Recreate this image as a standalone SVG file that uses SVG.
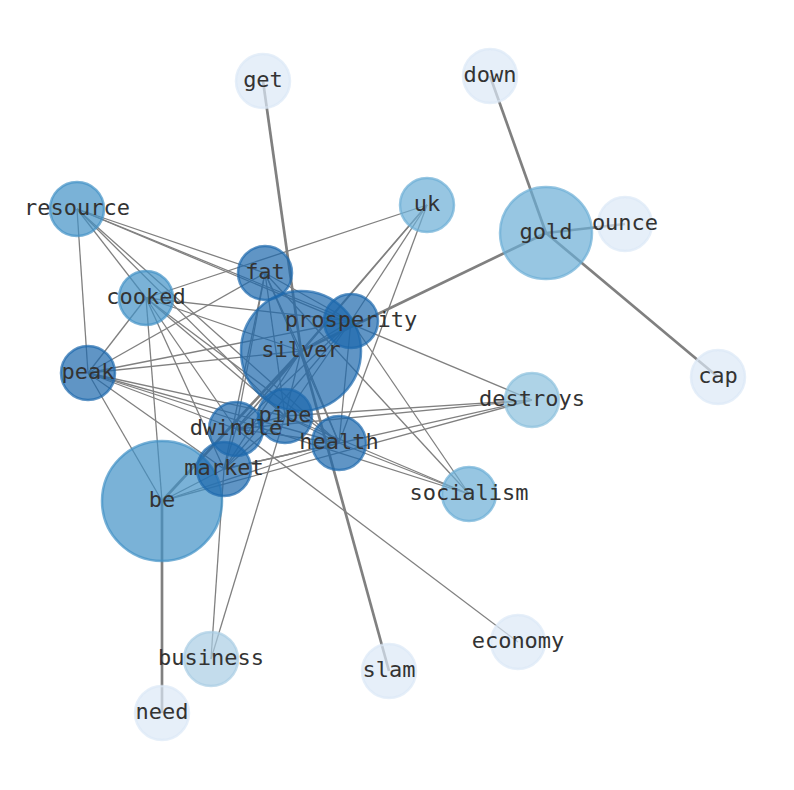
<svg xmlns="http://www.w3.org/2000/svg" width="794" height="790" viewBox="0 0 794 790">
<style>
.e{stroke:#808080;stroke-width:1.3;fill:none}
.t{stroke:#808080;stroke-width:2.7;fill:none}
circle{fill-opacity:0.7;stroke-opacity:0.7;stroke-width:2.5}
.c1 circle{fill:#1c68ad;stroke:#1c68ad}
.c2 circle{fill:#4292c6;stroke:#4292c6}
.c3 circle{fill:#6baed6;stroke:#6baed6}
.c4 circle{fill:#8cc0dd;stroke:#8cc0dd}
.c5 circle{fill:#a9cde4;stroke:#a9cde4}
.c6 circle{fill:#dbe8f6;stroke:#dbe8f6}
text{font-family:"DejaVu Sans Mono","Liberation Mono",monospace;font-size:22px;fill:#333;text-anchor:middle;dominant-baseline:central}
</style>
<rect width="794" height="790" fill="#fff"/>
<g id="edges">
<line class="e" x1="77" y1="209" x2="265" y2="273"/>
<line class="e" x1="77" y1="209" x2="351" y2="321"/>
<line class="e" x1="77" y1="209" x2="532" y2="400"/>
<line class="e" x1="77" y1="209" x2="88" y2="373"/>
<line class="e" x1="77" y1="209" x2="146" y2="298"/>
<line class="e" x1="77" y1="209" x2="285" y2="416"/>
<line class="e" x1="77" y1="209" x2="339" y2="443"/>
<line class="e" x1="146" y1="298" x2="427" y2="205"/>
<line class="e" x1="146" y1="298" x2="351" y2="321"/>
<line class="e" x1="146" y1="298" x2="301" y2="351"/>
<line class="e" x1="146" y1="298" x2="88" y2="373"/>
<line class="e" x1="146" y1="298" x2="236" y2="429"/>
<line class="e" x1="146" y1="298" x2="285" y2="416"/>
<line class="e" x1="146" y1="298" x2="224" y2="469"/>
<line class="e" x1="146" y1="298" x2="339" y2="443"/>
<line class="e" x1="146" y1="298" x2="162" y2="501"/>
<line class="e" x1="88" y1="373" x2="265" y2="273"/>
<line class="e" x1="88" y1="373" x2="351" y2="321"/>
<line class="e" x1="88" y1="373" x2="301" y2="351"/>
<line class="e" x1="88" y1="373" x2="285" y2="416"/>
<line class="e" x1="88" y1="373" x2="236" y2="429"/>
<line class="e" x1="88" y1="373" x2="339" y2="443"/>
<line class="e" x1="88" y1="373" x2="469" y2="494"/>
<line class="e" x1="88" y1="373" x2="162" y2="501"/>
<line class="e" x1="88" y1="373" x2="224" y2="469"/>
<line class="e" x1="427" y1="205" x2="351" y2="321"/>
<line class="e" x1="427" y1="205" x2="301" y2="351"/>
<line class="e" x1="427" y1="205" x2="236" y2="429"/>
<line class="e" x1="427" y1="205" x2="339" y2="443"/>
<line class="e" x1="265" y1="273" x2="351" y2="321"/>
<line class="e" x1="265" y1="273" x2="301" y2="351"/>
<line class="e" x1="265" y1="273" x2="285" y2="416"/>
<line class="e" x1="265" y1="273" x2="236" y2="429"/>
<line class="e" x1="265" y1="273" x2="224" y2="469"/>
<line class="e" x1="265" y1="273" x2="339" y2="443"/>
<line class="e" x1="265" y1="273" x2="469" y2="494"/>
<line class="e" x1="351" y1="321" x2="301" y2="351"/>
<line class="e" x1="351" y1="321" x2="285" y2="416"/>
<line class="e" x1="351" y1="321" x2="236" y2="429"/>
<line class="e" x1="351" y1="321" x2="224" y2="469"/>
<line class="e" x1="351" y1="321" x2="339" y2="443"/>
<line class="e" x1="351" y1="321" x2="469" y2="494"/>
<line class="e" x1="301" y1="351" x2="285" y2="416"/>
<line class="e" x1="301" y1="351" x2="236" y2="429"/>
<line class="e" x1="301" y1="351" x2="224" y2="469"/>
<line class="e" x1="301" y1="351" x2="339" y2="443"/>
<line class="e" x1="285" y1="416" x2="236" y2="429"/>
<line class="e" x1="285" y1="416" x2="339" y2="443"/>
<line class="e" x1="285" y1="416" x2="532" y2="400"/>
<line class="e" x1="285" y1="416" x2="224" y2="469"/>
<line class="e" x1="285" y1="416" x2="469" y2="494"/>
<line class="e" x1="285" y1="416" x2="211" y2="659"/>
<line class="e" x1="236" y1="429" x2="532" y2="400"/>
<line class="e" x1="236" y1="429" x2="518" y2="642"/>
<line class="e" x1="236" y1="429" x2="224" y2="469"/>
<line class="e" x1="236" y1="429" x2="339" y2="443"/>
<line class="e" x1="339" y1="443" x2="224" y2="469"/>
<line class="e" x1="339" y1="443" x2="469" y2="494"/>
<line class="e" x1="339" y1="443" x2="162" y2="501"/>
<line class="e" x1="224" y1="469" x2="162" y2="501"/>
<line class="e" x1="224" y1="469" x2="211" y2="659"/>
<line class="e" x1="224" y1="469" x2="532" y2="400"/>
<line class="e" x1="162" y1="501" x2="532" y2="400"/>
<line class="t" x1="301" y1="351" x2="263" y2="81"/>
<line class="t" x1="301" y1="351" x2="389" y2="671"/>
<line class="t" x1="301" y1="351" x2="162" y2="501"/>
<line class="t" x1="301" y1="351" x2="546" y2="233"/>
<line class="t" x1="546" y1="233" x2="490" y2="76"/>
<line class="t" x1="546" y1="233" x2="625" y2="224"/>
<line class="t" x1="546" y1="233" x2="718" y2="377"/>
<line class="t" x1="162" y1="501" x2="162" y2="713"/>
</g>
<g id="n-get" class="c6"><circle cx="263" cy="81" r="27"/></g>
<g id="n-down" class="c6"><circle cx="490" cy="76" r="27"/></g>
<g id="n-resource" class="c2"><circle cx="77" cy="209" r="27"/></g>
<g id="n-uk" class="c3"><circle cx="427" cy="205" r="27"/></g>
<g id="n-gold" class="c3"><circle cx="546" cy="233" r="46"/></g>
<g id="n-ounce" class="c6"><circle cx="625" cy="224" r="27"/></g>
<g id="n-cooked" class="c2"><circle cx="146" cy="298" r="27"/></g>
<g id="n-peak" class="c1"><circle cx="88" cy="373" r="27"/></g>
<g id="n-cap" class="c6"><circle cx="718" cy="377" r="27"/></g>
<g id="n-destroys" class="c4"><circle cx="532" cy="400" r="27"/></g>
<g id="n-silver" class="c1"><circle cx="301" cy="351" r="60"/></g>
<g id="n-fat" class="c1"><circle cx="265" cy="273" r="27"/></g>
<g id="n-prosperity" class="c1"><circle cx="351" cy="321" r="27"/></g>
<g id="n-be" class="c2"><circle cx="162" cy="501" r="60"/></g>
<g id="n-dwindle" class="c1"><circle cx="236" cy="429" r="27"/></g>
<g id="n-pipe" class="c1"><circle cx="285" cy="416" r="27"/></g>
<g id="n-health" class="c1"><circle cx="339" cy="443" r="27"/></g>
<g id="n-market" class="c1"><circle cx="224" cy="469" r="27"/></g>
<g id="n-socialism" class="c3"><circle cx="469" cy="494" r="27"/></g>
<g id="n-economy" class="c6"><circle cx="518" cy="642" r="27"/></g>
<g id="n-business" class="c5"><circle cx="211" cy="659" r="27"/></g>
<g id="n-slam" class="c6"><circle cx="389" cy="671" r="27"/></g>
<g id="n-need" class="c6"><circle cx="162" cy="713" r="27"/></g>
<g id="labels" transform="translate(0,-2)">
<text x="263" y="81">get</text>
<text x="490" y="76">down</text>
<text x="77" y="209">resource</text>
<text x="427" y="205">uk</text>
<text x="546" y="233">gold</text>
<text x="625" y="224">ounce</text>
<text x="265" y="273">fat</text>
<text x="146" y="298">cooked</text>
<text x="351" y="321">prosperity</text>
<text x="301" y="351">silver</text>
<text x="88" y="373">peak</text>
<text x="532" y="400">destroys</text>
<text x="718" y="377">cap</text>
<text x="285" y="416">pipe</text>
<text x="236" y="429">dwindle</text>
<text x="339" y="443">health</text>
<text x="224" y="469">market</text>
<text x="469" y="494">socialism</text>
<text x="162" y="501">be</text>
<text x="518" y="642">economy</text>
<text x="211" y="659">business</text>
<text x="389" y="671">slam</text>
<text x="162" y="713">need</text>
</g>
</svg>
